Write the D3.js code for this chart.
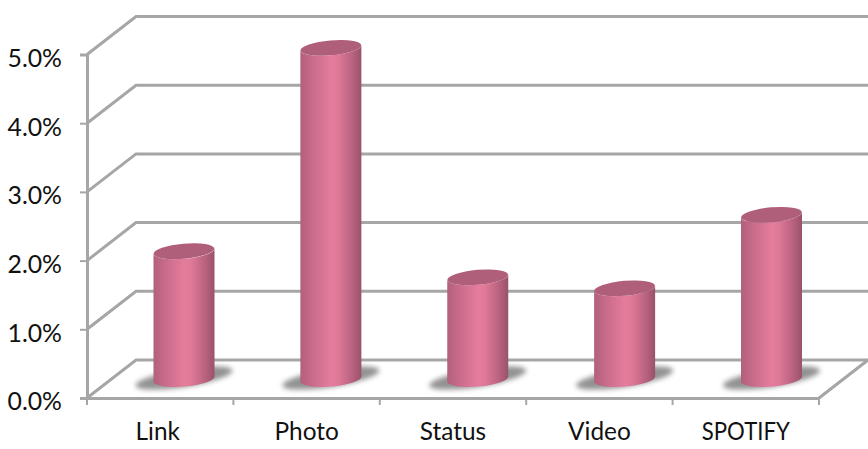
<!DOCTYPE html>
<html>
<head>
<meta charset="utf-8">
<script src="https://cdn.jsdelivr.net/npm/d3@7"></script>
<style>
  html, body { margin: 0; padding: 0; background: #fff; overflow: hidden; }
  svg { display: block; }
  text { font-family: Lato, "Open Sans", sans-serif; fill: #111; }
</style>
</head>
<body>
<svg id="chart" width="868" height="449"></svg>
<script>
const categories = ['Link', 'Photo', 'Status', 'Video', 'SPOTIFY'];
const values = [1.86, 4.82, 1.48, 1.32, 2.39];
const yTicks = [0, 1, 2, 3, 4, 5];

const width = 868, height = 449;
const depthX = 49, depthY = 38;
const gridColor = '#a6a6a6';

const svg = d3.select('#chart');
const x = d3.scaleBand().domain(categories).range([87, 819]);
const y = d3.scaleLinear().domain([0, 5]).range([398, 54.5]);
// bars drift slightly from the band centres in the reference
const barX = d3.scalePoint().domain(categories).range([184, 771.5]);

// gradients and blur for the cylinders
const defs = svg.append('defs');
const grad = defs.append('linearGradient').attr('id', 'barFill');
[[0, '#b2607b'], [0.18, '#c76a8a'], [0.5, '#e57c9c'], [0.62, '#df7998'], [0.85, '#b9627f'], [1, '#99526a']]
  .forEach(([o, c]) => grad.append('stop').attr('offset', o).attr('stop-color', c));
defs.append('filter').attr('id', 'soft')
  .attr('x', '-30%').attr('y', '-60%').attr('width', '160%').attr('height', '220%')
  .append('feGaussianBlur').attr('stdDeviation', 2.5);

// side walls and back wall gridlines
const grid = svg.append('g').attr('stroke', gridColor).attr('stroke-width', 3).attr('fill', 'none');
yTicks.forEach(t => {
  grid.append('path')
    .attr('d', d3.line()([[87, y(t)], [87 + depthX, y(t) - depthY], [width, y(t) - depthY]]));
});
grid.append('path')
  .attr('d', d3.line()([[819, y(0)], [819 + depthX, y(0) - depthY]]));

// axes
const yAxis = svg.append('g').attr('transform', 'translate(87,0)')
  .call(d3.axisLeft(y).tickValues(yTicks).tickFormat(d => d3.format('.1f')(d) + '%').tickSize(7).tickPadding(18));
const xAxis = svg.append('g').attr('transform', `translate(0,${y(0)})`)
  .call(d3.axisBottom(x).tickSize(0).tickPadding(25));
[yAxis, xAxis].forEach(a => {
  a.attr('font-family', null).attr('font-size', null);
  a.selectAll('path.domain').attr('stroke', gridColor).attr('stroke-width', 3);
  a.selectAll('.tick line').attr('stroke', gridColor).attr('stroke-width', 2);
});
yAxis.selectAll('text').style('font-size', '24.8px')
  .attr('y', 3).attr('dy', '0.36em');
xAxis.selectAll('text').style('font-size', '24.4px')
  .attr('dx', d => d === 'Link' ? -2.5 : 0);
// Lato caps run wider than the original face
xAxis.selectAll('text').filter(d => d === 'SPOTIFY')
  .attr('textLength', 88).attr('lengthAdjust', 'spacingAndGlyphs');

// tick marks on the category axis sit between the bands
xAxis.selectAll('.edge').data(categories.concat([null])).join('line')
  .attr('class', 'edge')
  .attr('x1', (d, i) => 87 + i * x.bandwidth())
  .attr('x2', (d, i) => 87 + i * x.bandwidth())
  .attr('y1', 0).attr('y2', 7)
  .attr('stroke', gridColor).attr('stroke-width', 2);

// cylinders
const rx = 30.5, ry = 7.5, tilt = -5;
const bars = svg.append('g').selectAll('g').data(categories.map((c, i) => ({ c, v: values[i] }))).join('g')
  .attr('transform', d => `translate(${barX(d.c)},${-depthY / 2})`);

bars.append('ellipse')
  .attr('cx', 0).attr('cy', y(0) - 1).attr('rx', 49).attr('ry', 9)
  .attr('transform', `rotate(-9 0 ${y(0) - 1})`)
  .attr('fill', '#7f7f7f').attr('opacity', 0.85).attr('filter', 'url(#soft)');

const bodyPath = d => {
  const top = y(d.v), base = y(0);
  const dy = rx * Math.sin(tilt * Math.PI / 180);
  const r = `A${rx} ${ry} ${tilt}`;
  return `M${-rx} ${top - dy}L${-rx} ${base - dy}${r} 0 0 ${rx} ${base + dy}L${rx} ${top + dy}${r} 0 1 ${-rx} ${top - dy}Z`;
};
bars.append('path').attr('d', bodyPath).attr('fill', 'url(#barFill)');
bars.append('ellipse')
  .attr('cx', 0).attr('cy', d => y(d.v)).attr('rx', rx).attr('ry', ry)
  .attr('transform', d => `rotate(${tilt} 0 ${y(d.v)})`)
  .attr('fill', '#b05f7a');
</script>
</body>
</html>
